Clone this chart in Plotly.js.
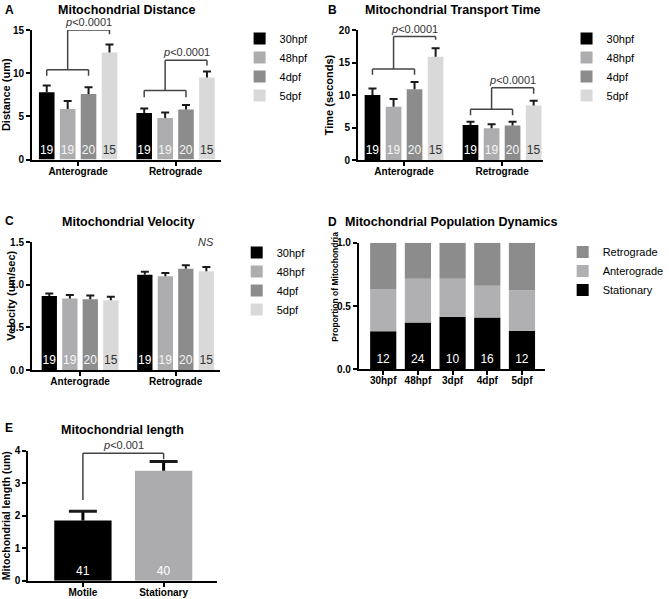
<!DOCTYPE html>
<html><head><meta charset="utf-8">
<script src="https://cdn.plot.ly/plotly-3.0.1.min.js"></script>
<style>html,body{margin:0;padding:0;background:#fff}</style>
</head><body><div id="chart" style="width:669px;height:599px"></div>
<script>
// ---------- DATA ----------
const directions = ['Anterograde', 'Retrograde'];
const stages = ['30hpf', '48hpf', '4dpf', '5dpf'];
const stageN = [19, 19, 20, 15];

// A: Mitochondrial Distance (um), mean and SEM
const distAntero = [7.8, 5.85, 7.6, 12.4];
const distAnteroErr = [0.77, 0.93, 0.77, 0.92];
const distRetro = [5.4, 4.8, 5.8, 9.5];
const distRetroErr = [0.5, 0.65, 0.5, 0.7];

// B: Mitochondrial Transport Time (seconds)
const timeAntero = [10.0, 8.2, 10.9, 15.9];
const timeAnteroErr = [1.0, 1.2, 1.1, 1.3];
const timeRetro = [5.4, 4.9, 5.3, 8.4];
const timeRetroErr = [0.5, 0.6, 0.6, 0.7];

// C: Mitochondrial Velocity (um/sec)
const velAntero = [0.87, 0.84, 0.83, 0.82];
const velAnteroErr = [0.03, 0.04, 0.045, 0.04];
const velRetro = [1.12, 1.10, 1.19, 1.16];
const velRetroErr = [0.035, 0.04, 0.04, 0.05];

// D: Mitochondrial Population Dynamics (proportions)
const popStages = ['30hpf', '48hpf', '3dpf', '4dpf', '5dpf'];
const popStationary = [0.30, 0.37, 0.415, 0.41, 0.305];
const popAnterograde = [0.335, 0.345, 0.30, 0.25, 0.32];
const popRetrograde = [0.365, 0.285, 0.285, 0.34, 0.375];
const popN = [12, 24, 10, 16, 12];

// E: Mitochondrial length (um)
const lenGroups = ['Motile', 'Stationary'];
const lenMean = [1.85, 3.38];
const lenErr = [0.29, 0.29];
const lenN = [41, 40];

// ---------- STYLE ----------
const FONT = 'Arial, "Liberation Sans", Helvetica, sans-serif';
const W = 669, H = 599;
const px = v => v / W;
const py = v => 1 - v / H;
const stageColors = ['rgb(0,0,0)', 'rgb(173,173,175)', 'rgb(140,140,140)', 'rgb(217,217,217)'];
const stageTextColors = ['rgb(255,255,255)', 'rgb(245,245,245)', 'rgb(245,245,245)', 'rgb(51,51,51)'];
const slot = [-0.322, -0.107, 0.107, 0.322];
const barW = 0.16;
const ERRC = 'rgb(26,26,26)';

const traces = [];
// error bar = stem (width 0) on the bar + a cap drawn by a transparent helper bar
function capTrace(xa, ya, xs, tops, off, w, capW, thick) {
  traces.push({type: 'bar', x: xs, y: tops, xaxis: xa, yaxis: ya, showlegend: false,
    offset: off, width: w, marker: {color: 'rgba(0,0,0,0)', line: {width: 0}},
    error_y: {type: 'data', array: tops.map(() => 0), color: ERRC, thickness: thick, width: capW},
    hoverinfo: 'skip'});
}
function groupedPanel(xa, ya, leg, ante, anteErr, retro, retroErr) {
  stages.forEach((s, i) => {
    traces.push({
      type: 'bar', name: s, x: directions, y: [ante[i], retro[i]],
      xaxis: xa, yaxis: ya, legend: leg,
      offset: slot[i] - barW / 2, width: barW,
      marker: {color: stageColors[i], line: {width: 0}},
      error_y: {type: 'data', symmetric: false, array: [anteErr[i], retroErr[i]],
                arrayminus: [0, 0], color: ERRC, thickness: 2, width: 0},
      text: [String(stageN[i]), String(stageN[i])],
      textposition: 'inside', insidetextanchor: 'start', textangle: 0,
      constraintext: 'none',
      textfont: {family: FONT, size: 12, color: stageTextColors[i]},
      hoverinfo: 'skip'
    });
  });
  stages.forEach((s, i) => {
    capTrace(xa, ya, directions, [ante[i] + anteErr[i], retro[i] + retroErr[i]],
             slot[i] - barW / 2, barW, 4, 2);
  });
}
groupedPanel('x', 'y', 'legend', distAntero, distAnteroErr, distRetro, distRetroErr);
groupedPanel('x2', 'y2', 'legend2', timeAntero, timeAnteroErr, timeRetro, timeRetroErr);
groupedPanel('x3', 'y3', 'legend3', velAntero, velAnteroErr, velRetro, velRetroErr);

// D stacked via base
const popW = 0.755;
const baseAnt = popStationary.slice();
const baseRet = popStationary.map((v, i) => v + popAnterograde[i]);
traces.push({type: 'bar', name: 'Stationary', x: popStages, y: popStationary,
  xaxis: 'x4', yaxis: 'y4', legend: 'legend4', width: popW, offset: -popW / 2,
  marker: {color: 'rgb(0,0,0)'}, text: popN.map(String), textposition: 'inside',
  insidetextanchor: 'start', textangle: 0, constraintext: 'none',
  textfont: {family: FONT, size: 12, color: 'rgb(255,255,255)'}, hoverinfo: 'skip'});
traces.push({type: 'bar', name: 'Anterograde', x: popStages, y: popAnterograde, base: baseAnt,
  xaxis: 'x4', yaxis: 'y4', legend: 'legend4', width: popW, offset: -popW / 2,
  marker: {color: 'rgb(176,176,178)'}, hoverinfo: 'skip'});
traces.push({type: 'bar', name: 'Retrograde', x: popStages, y: popRetrograde, base: baseRet,
  xaxis: 'x4', yaxis: 'y4', legend: 'legend4', width: popW, offset: -popW / 2,
  marker: {color: 'rgb(140,140,140)'}, hoverinfo: 'skip'});

// E
const lenW = 0.71;
traces.push({type: 'bar', x: lenGroups, y: lenMean, xaxis: 'x5', yaxis: 'y5',
  showlegend: false, width: lenW, offset: -lenW / 2,
  marker: {color: ['rgb(0,0,0)', 'rgb(172,172,174)']},
  error_y: {type: 'data', symmetric: false, array: lenErr, arrayminus: [0, 0],
            color: 'rgb(0,0,0)', thickness: 3, width: 0},
  text: lenN.map(String), textposition: 'inside', insidetextanchor: 'start',
  textangle: 0, constraintext: 'none',
  textfont: {family: FONT, size: 12, color: 'rgb(255,255,255)'}, hoverinfo: 'skip'});
capTrace('x5', 'y5', lenGroups, lenMean.map((v, i) => v + lenErr[i]), -lenW / 2, lenW, 14, 3);

// ---------- AXES ----------
const tickFont = {family: FONT, size: 10, color: '#000', weight: 'bold'};
function xax(d0, d1, r, anchor, cats) {
  return {domain: [px(d0), px(d1)], range: r, anchor: anchor, type: 'category',
    categoryorder: 'array', categoryarray: cats,
    showline: true, linecolor: '#000', linewidth: 2, ticks: 'outside', ticklen: 4,
    tickwidth: 2, tickcolor: '#000', showgrid: false, zeroline: false,
    ticklabelstandoff: -3,
    tickfont: tickFont, fixedrange: true};
}
function yax(b, t, r, tv, anchor, title, tsize, fmt) {
  return {domain: [py(b), py(t)], range: r, anchor: anchor, tickvals: tv,
    tickformat: fmt || '', showline: true, linecolor: '#000', linewidth: 2,
    ticks: 'outside', ticklen: 4, tickwidth: 2, tickcolor: '#000',
    showgrid: false, zeroline: false, tickfont: tickFont, fixedrange: true,
    title: title ? {text: title, font: {family: FONT, size: tsize, color: '#000', weight: 'bold'}, standoff: 3} : {text: ''}};
}

// ---------- BRACKETS ----------
const shapes = [];
const lineStyle = {color: 'rgb(68,68,68)', width: 1.5};
function seg(xr, yr, x0, y0, x1, y1) {
  shapes.push({type: 'line', xref: xr, yref: yr, x0, y0, x1, y1, line: lineStyle, layer: 'above'});
}
function bracket(xr, yr, g, yLow, yLeg, yTop, yRightLeg) {
  seg(xr, yr, g + slot[0], yLeg, g + slot[0], yLow);
  seg(xr, yr, g + slot[0], yLow, g + slot[2], yLow);
  seg(xr, yr, g + slot[2], yLow, g + slot[2], yLeg);
  seg(xr, yr, g + slot[1], yLow, g + slot[1], yTop);
  seg(xr, yr, g + slot[1], yTop, g + slot[3], yTop);
  seg(xr, yr, g + slot[3], yTop, g + slot[3], yRightLeg);
}
bracket('x', 'y', 0, 10.4, 9.7, 15.0, 14.5);
bracket('x', 'y', 1, 8.0, 7.2, 11.5, 10.9);
bracket('x2', 'y2', 0, 14.0, 13.1, 19.0, 18.5);
bracket('x2', 'y2', 1, 7.8, 6.9, 11.1, 10.2);
seg('x5', 'y5', 0, 2.48, 0, 3.92);
seg('x5', 'y5', 0, 3.92, 1, 3.92);
seg('x5', 'y5', 1, 3.92, 1, 3.74);

// ---------- ANNOTATIONS ----------
const ann = [];
function paperText(text, x, y, size, bold, angle) {
  ann.push({xref: 'paper', yref: 'paper', x: px(x), y: py(y), text: text, showarrow: false,
    xanchor: 'center', yanchor: 'middle', textangle: angle || 0,
    font: {family: FONT, size: size, color: '#000', weight: bold ? 'bold' : 'normal'}});
}
paperText('A', 10, 10, 12, true);
paperText('B', 343, 10, 12, true);
paperText('C', 10, 221, 12, true);
paperText('D', 343, 222, 12, true);
paperText('E', 9, 428, 12, true);
paperText('Mitochondrial Distance', 131, 10, 12.5, true);
paperText('Mitochondrial Transport Time', 467, 10, 12.5, true);
paperText('Mitochondrial Velocity', 132, 222, 12.5, true);
paperText('Mitochondrial Population Dynamics', 465, 222, 12.5, true);
paperText('Mitochondrial length', 126, 430, 12.5, true);
// off-centre y titles of C and D
paperText('Velocity (um/sec)', 11, 296, 11, true, -90);
paperText('Proportion of Mitochondria', 345, 287, 8.5, true, -90);

function pLabel(xr, yr, x, y, text) {
  ann.push({xref: xr, yref: yr, x: x, y: y, text: text, showarrow: false,
    xanchor: 'center', yanchor: 'bottom', yshift: 0,
    font: {family: FONT, size: 11, color: 'rgb(51,51,51)'}});
}
pLabel('x', 'y', (slot[1] + slot[3]) / 2, 15.0, '<i>p</i>&lt;0.0001');
pLabel('x', 'y', 1 + (slot[1] + slot[3]) / 2, 11.5, '<i>p</i>&lt;0.0001');
pLabel('x2', 'y2', (slot[1] + slot[3]) / 2, 19.0, '<i>p</i>&lt;0.0001');
pLabel('x2', 'y2', 1 + (slot[1] + slot[3]) / 2, 11.1, '<i>p</i>&lt;0.0001');
pLabel('x5', 'y5', 0.5, 3.92, '<i>p</i>&lt;0.001');
ann.push({xref: 'x3', yref: 'y3', x: 1.32, y: 1.5, text: '<i>NS</i>', showarrow: false,
  xanchor: 'center', yanchor: 'middle', font: {family: FONT, size: 11, color: 'rgb(51,51,51)'}});

function leg(x, y, order) {
  return {x: px(x), y: py(y), xanchor: 'left', yanchor: 'top', bgcolor: 'rgba(0,0,0,0)',
    font: {family: FONT, size: 11, color: '#000'}, traceorder: order || 'normal',
    itemclick: false, itemdoubleclick: false};
}

const layout = {
  width: W, height: H, margin: {l: 0, r: 0, t: 0, b: 0},
  paper_bgcolor: '#fff', plot_bgcolor: 'rgba(0,0,0,0)',
  barmode: 'overlay', showlegend: true,
  font: {family: FONT, color: '#000'},
  xaxis: xax(33, 228, [-0.473, 1.468], 'y', directions),
  yaxis: yax(159.5, 30, [0, 15], [0, 5, 10, 15], 'x', 'Distance (um)', 11),
  xaxis2: xax(369, 560, [-0.47, 1.42], 'y2', directions),
  yaxis2: yax(160, 30, [0, 20], [0, 5, 10, 15, 20], 'x2', 'Time (seconds)', 11),
  xaxis3: xax(33, 227, [-0.503, 1.467], 'y3', directions),
  yaxis3: yax(370, 242.3, [0, 1.5], [0, 0.5, 1, 1.5], 'x3', '', 11, '.1f'),
  xaxis4: xax(370, 562, [-0.70, 4.67], 'y4', popStages),
  yaxis4: yax(369.3, 242.7, [0, 1], [0, 0.5, 1], 'x4', '', 8.5, '.1f'),
  xaxis5: xax(29.3, 224, [-0.675, 1.665], 'y5', lenGroups),
  yaxis5: yax(580.7, 450.7, [0, 4], [0, 1, 2, 3, 4], 'x5', 'Mitochondrial length (um)', 10.5),
  legend: leg(247, 24),
  legend2: leg(584, 24),
  legend3: leg(244, 238),
  legend4: leg(580, 237.5, 'reversed'),
  shapes: shapes,
  annotations: ann
};

Plotly.newPlot('chart', traces, layout, {displayModeBar: false, staticPlot: true});
</script></body></html>
